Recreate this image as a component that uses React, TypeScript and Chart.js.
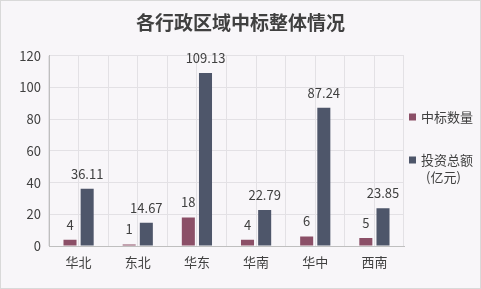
import React, { useEffect, useRef } from "react";
import { Chart, registerables } from "chart.js";

Chart.register(...registerables);

const categories = ["华北", "东北", "华东", "华南", "华中", "西南"];
const bidCounts = [4, 1, 18, 4, 6, 5];
const investTotals = [36.11, 14.67, 109.13, 22.79, 87.24, 23.85];
const yTicks = [0, 20, 40, 60, 80, 100, 120];
const seriesNames = ["中标数量", "投资总额"];
const legendLabels = [["中标数量"], ["投资总额", "(亿元)"]];
const titleText = "各行政区域中标整体情况";

const FONT = '"Microsoft YaHei", "Noto Sans CJK SC", sans-serif';
const COLORS = ["#8b4f67", "#4e566a"];

const labelPlugin = {
  id: "valueLabels",
  afterDatasetsDraw(chart: any) {
    const ctx = chart.ctx;
    ctx.save();
    ctx.font = `13px ${FONT}`;
    ctx.fillStyle = "#404040";
    ctx.textAlign = "center";
    ctx.textBaseline = "middle";
    chart.data.datasets.forEach((ds: any, i: number) => {
      const meta = chart.getDatasetMeta(i);
      meta.data.forEach((bar: any, j: number) => {
        ctx.fillText(String(ds.data[j]), bar.x, bar.y - 15);
      });
    });
    ctx.restore();
  },
};

const legendPlugin = {
  id: "sideLegend",
  afterDraw(chart: any) {
    const ctx = chart.ctx;
    const area = chart.chartArea;
    ctx.save();
    ctx.font = `13px ${FONT}`;
    ctx.textBaseline = "middle";
    ctx.textAlign = "left";
    const x0 = area.right + 5;
    const ys = [116, 159];
    legendLabels.forEach((lines, i) => {
      const y = ys[i];
      ctx.fillStyle = COLORS[i];
      ctx.fillRect(x0, y - 3.5, 7, 7);
      ctx.fillStyle = "#404040";
      lines.forEach((line, k) => {
        ctx.fillText(line, x0 + 12 + (k > 0 ? 5 : 0), y + k * 17);
      });
    });
    ctx.restore();
  },
};

export default function App() {
  const ref = useRef<HTMLCanvasElement>(null);
  useEffect(() => {
    const chart = new Chart(ref.current!, {
      type: "bar",
      data: {
        labels: categories,
        datasets: [
          {
            label: seriesNames[0],
            data: bidCounts,
            backgroundColor: COLORS[0],
            categoryPercentage: 0.58,
            barPercentage: 0.76,
          },
          {
            label: seriesNames[1],
            data: investTotals,
            backgroundColor: COLORS[1],
            categoryPercentage: 0.58,
            barPercentage: 0.76,
          },
        ],
      },
      options: {
        animation: false,
        responsive: false,
        maintainAspectRatio: false,
        layout: { padding: { top: 0, right: 0, bottom: 0, left: 0 } },
        plugins: {
          legend: { display: false },
          tooltip: { enabled: false },
          title: {
            display: true,
            text: titleText,
            color: "#404040",
            font: { family: FONT, size: 19, weight: "bold" },
            padding: { top: 10, bottom: 22 },
          },
        },
        scales: {
          x: {
            offset: true,
            grid: { offset: true, color: "#e3e1e5", drawTicks: false },
            border: { color: "#bfbfbf" },
            ticks: {
              color: "#404040",
              font: { family: FONT, size: 13 },
              padding: 8,
            },
            afterFit: (s: any) => {
              s.height = 42;
            },
          },
          x2: {
            type: "category",
            labels: categories,
            position: "bottom",
            offset: true,
            grid: { offset: false, color: "#e3e1e5", drawTicks: false },
            border: { display: false },
            ticks: { display: false },
            afterFit: (s: any) => {
              s.height = 0;
            },
          },
          y: {
            min: 0,
            max: 120,
            afterBuildTicks: (s: any) => {
              s.ticks = yTicks.map((v) => ({ value: v }));
            },
            grid: { color: "#e3e1e5", drawTicks: false },
            border: { color: "#bfbfbf" },
            ticks: {
              color: "#404040",
              font: { family: FONT, size: 13 },
              padding: 8,
            },
            afterFit: (s: any) => {
              s.width = 48;
            },
          },
          yLegendSpace: {
            type: "linear",
            position: "right",
            min: 0,
            max: 1,
            grid: { display: false, drawOnChartArea: false },
            border: { display: false },
            ticks: { display: false },
            afterFit: (s: any) => {
              s.width = 76;
            },
          },
        },
      } as any,
      plugins: [labelPlugin, legendPlugin],
    });
    return () => chart.destroy();
  }, []);
  return (
    <div
      style={{
        position: "fixed",
        left: 0,
        top: 0,
        width: 481,
        height: 289,
        boxSizing: "border-box",
        border: "1px solid #d9d9d9",
        background: "#f8f6f9",
      }}
    >
      <canvas ref={ref} width={479} height={287} style={{ display: "block" }} />
    </div>
  );
}
